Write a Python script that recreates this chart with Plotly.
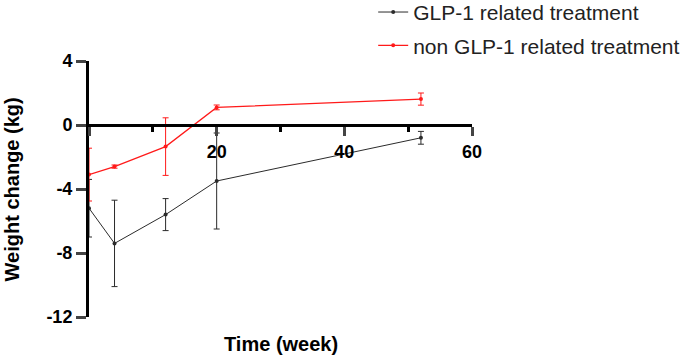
import plotly.graph_objects as go

weeks = [0, 4, 12, 20, 52]
glp1_mean = [-5.2, -7.4, -5.6, -3.5, -0.8]
glp1_err = [1.8, 2.7, 1.0, 3.0, 0.4]
non_mean = [-3.1, -2.6, -1.35, 1.1, 1.62]
non_err = [1.65, 0.1, 1.8, 0.15, 0.38]

x_ticks = [0, 20, 40, 60]
x_tick_labels = ["", "20", "40", "60"]
x_minor = [10, 30, 50]
y_ticks = [4, 0, -4, -8, -12]
y_tick_labels = ["4", "0", "-4", "-8", "-12"]

fig = go.Figure()
fig.add_trace(go.Scatter(
    x=weeks, y=glp1_mean, mode="lines+markers", name="GLP-1 related treatment",
    line=dict(color="#2b2b2b", width=1), marker=dict(size=4, color="#2b2b2b"),
    error_y=dict(type="data", array=glp1_err, color="#2b2b2b", thickness=1, width=3),
    cliponaxis=False, legendgroup="a"))
fig.add_trace(go.Scatter(
    x=weeks, y=non_mean, mode="lines+markers", name="non GLP-1 related treatment",
    line=dict(color="#ff1a1a", width=1.2), marker=dict(size=4, color="#ff1a1a"),
    error_y=dict(type="data", array=non_err, color="#ff1a1a", thickness=1, width=3),
    cliponaxis=False, legendgroup="b"))

FAM = "Liberation Sans, Arial"
font_tick = dict(family=FAM, size=18, color="black", weight="bold")
title_font = dict(family=FAM, size=20, color="black", weight="bold")
fig.update_layout(
    width=685, height=356,
    margin=dict(l=89, r=213, t=61, b=39, autoexpand=False),
    plot_bgcolor="white", paper_bgcolor="white",
    showlegend=True,
    legend=dict(x=0.742, y=1.27, xanchor="left", yanchor="top",
                font=dict(family=FAM, size=21, color="#222"),
                tracegroupgap=3, itemwidth=30, bgcolor="rgba(0,0,0,0)"),
    xaxis=dict(range=[0, 60], tickvals=x_ticks, ticktext=x_tick_labels, ticks="outside",
               ticklen=9, tickwidth=3,
               showline=True, linewidth=3, linecolor="black", showgrid=False, zeroline=False,
               anchor="free", position=0.75, tickfont=font_tick, automargin=False,
               minor=dict(tickvals=x_minor, ticks="outside", ticklen=5, tickwidth=3, tickcolor="black")),
    yaxis=dict(range=[-12, 4], tickvals=y_ticks, ticktext=y_tick_labels, ticks="outside",
               ticklen=10, tickwidth=3,
               showline=True, linewidth=3, linecolor="black", showgrid=False, zeroline=False,
               tickfont=font_tick, automargin=False),
    annotations=[
        dict(text="Time (week)", x=30, y=0, xref="x", yref="paper",
             yanchor="top", yshift=-14, showarrow=False, font=title_font),
        dict(text="Weight change (kg)", x=-0.2, y=0.5, xref="paper", yref="paper",
             textangle=-90, xanchor="center", yanchor="middle", showarrow=False, font=title_font),
    ],
)
fig.write_html("out.html", config={"displayModeBar": False},
               post_script="document.body.style.margin='0';")
